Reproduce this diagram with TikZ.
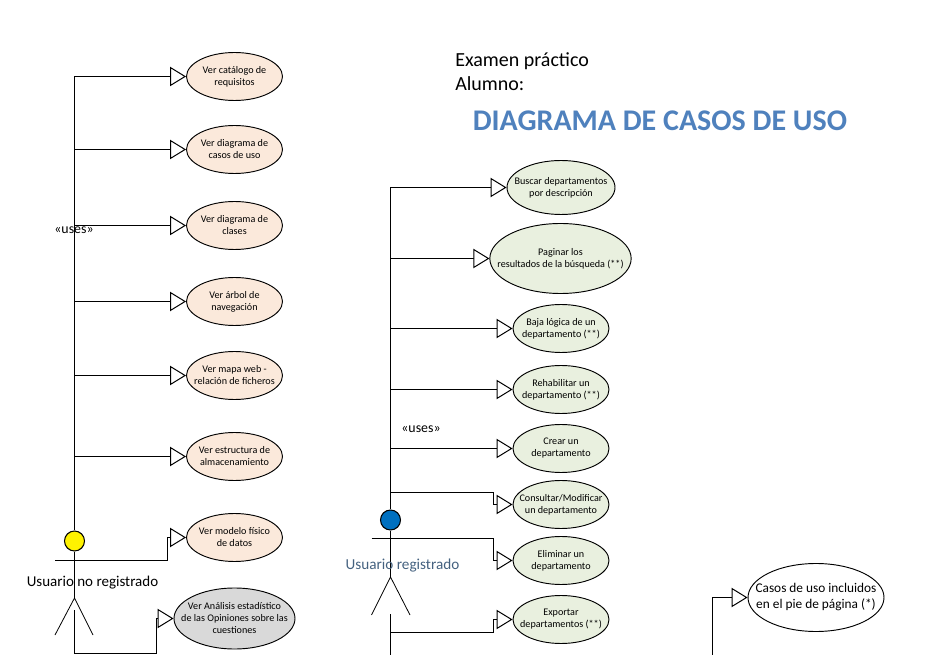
\documentclass[tikz,border=0pt]{standalone}
\usepackage{fontspec}
\setmainfont{Carlito}
\usetikzlibrary{shapes.geometric,arrows.meta}
\definecolor{peach}{HTML}{FBE9DB}
\definecolor{pale}{HTML}{E9F0DF}
\definecolor{greycase}{HTML}{D9D9D9}
\definecolor{titleblue}{HTML}{4F81BD}
\definecolor{actorblue}{HTML}{0070C0}
\definecolor{actortext}{HTML}{44617F}
\tikzset{
  usecase/.style={draw,line width=0.7pt,ellipse,inner xsep=-30pt,inner ysep=-12pt,align=center,font=\fontsize{7.6}{9}\selectfont,minimum width=72pt,minimum height=36pt},
  lefcase/.style={usecase,fill=peach},
  rigcase/.style={usecase,fill=pale},
  link/.style={line width=0.75pt,-{Triangle[open,fill=white,length=12pt,width=14.5pt]}},
  head/.style={draw,circle,line width=0.8pt,minimum size=15pt,inner sep=0pt},
  limb/.style={line width=0.6pt},
  trunk/.style={line width=0.9pt},
}
\begin{document}
\begin{tikzpicture}[x=0.75pt,y=-0.75pt]
\useasboundingbox (0,0) rectangle (949,655);

\node[anchor=west,inner sep=0pt,font=\fontsize{15}{18}\selectfont,align=left] (exam) at (455,71.5) {Examen práctico\\Alumno:};
\node[anchor=west,inner sep=0pt,font=\fontsize{22.5}{27}\bfseries\selectfont,text=titleblue] (title) at (472.5,121) {DIAGRAMA DE CASOS DE USO};

% no registrado
\node[lefcase] (catalogo) at (234.5,76.5) {Ver catálogo de\\requisitos};
\node[lefcase] (casos) at (234.5,149.5) {Ver diagrama de\\casos de uso};
\node[lefcase] (clases) at (234.5,225.5) {Ver diagrama de\\clases};
\node[lefcase] (arbol) at (234.5,301.5) {Ver árbol de\\navegación};
\node[lefcase] (mapa) at (234.5,375.5) {Ver mapa web -\\relación de ficheros};
\node[lefcase] (estructura) at (234.5,456.5) {Ver estructura de\\almacenamiento};
\node[lefcase] (modelo) at (234.5,537.5) {Ver modelo físico\\de datos};
\node[usecase,fill=greycase,minimum width=90.75pt,minimum height=45.75pt] (analisis) at (234.5,618.5) {Ver Análisis estadístico\\de las Opiniones sobre las\\cuestiones};

\node[head,fill=yellow] (yellowhead) at (74.5,541) {};
\coordinate (t0) at (74.5,76.5);
\coordinate (t1) at (74.5,149.5);
\coordinate (t2) at (74.5,225.5);
\coordinate (t3) at (74.5,301.5);
\coordinate (t4) at (74.5,375.5);
\coordinate (t5) at (74.5,456.5);
\coordinate (armL) at (55,560.5);
\coordinate (hip) at (74.5,598);
\coordinate (footL) at (55,635);
\coordinate (footR) at (93,635);
\coordinate (low0) at (74.5,610);
\coordinate (low1) at (74.5,653.5);

\path[draw,trunk] (t0) -- (yellowhead);
\path[draw,link] (t0) -- (catalogo.west);
\path[draw,link] (t1) -- (casos.west);
\path[draw,link] (t2) -- (clases.west);
\path[draw,link] (t3) -- (arbol.west);
\path[draw,link] (t4) -- (mapa.west);
\path[draw,link] (t5) -- (estructura.west);
\path[draw,link] (armL) -| ([xshift=-14pt]modelo.west) -- (modelo.west);
\path[draw,limb] (yellowhead) -- (hip);
\path[draw,limb] (footL) -- (hip) -- (footR);
\path[draw,trunk] (low0) -- (low1);
\path[draw,link] (low1) -| ([xshift=-13pt]analisis.west) -- (analisis.west);

\node[font=\fontsize{10.4}{12}\selectfont] (usesa) at (74,230.5) {«uses»};
\node[font=\fontsize{11.25}{13}\selectfont] (usera) at (92.5,582.5) {Usuario no registrado};

% registrado
\node[rigcase,minimum width=81pt,minimum height=40.5pt] (buscar) at (561,187.5) {Buscar departamentos\\por descripción};
\node[rigcase,minimum width=106pt,minimum height=52.5pt] (paginar) at (560.5,258.5) {Paginar los\\resultados de la búsqueda (**)};
\node[rigcase] (baja) at (561,328.5) {Baja lógica de un\\departamento (**)};
\node[rigcase] (rehab) at (561,389.5) {Rehabilitar un\\departamento (**)};
\node[rigcase] (crear) at (561,448.5) {Crear un\\departamento};
\node[rigcase] (consultar) at (561,504.5) {Consultar/Modificar\\un departamento};
\node[rigcase] (eliminar) at (561,560.5) {Eliminar un\\departamento};
\node[rigcase] (exportar) at (561,619.5) {Exportar\\departamentos (**)};

\node[head,fill=actorblue] (bluehead) at (390.5,520) {};
\coordinate (r0) at (390.5,187.5);
\coordinate (r1) at (390.5,258.5);
\coordinate (r2) at (390.5,328.5);
\coordinate (r3) at (390.5,389.5);
\coordinate (r4) at (390.5,448.5);
\coordinate (r5) at (390.5,492.5);
\coordinate (arm2L) at (371.5,538.5);
\coordinate (hip2) at (390.5,577);
\coordinate (foot2L) at (371.5,615);
\coordinate (foot2R) at (410,615);
\coordinate (low2) at (390.5,614);
\coordinate (low3) at (390.5,632.5);
\coordinate (low4) at (390.5,655);

\path[draw,trunk] (r0) -- (bluehead);
\path[draw,link] (r0) -- (buscar.west);
\path[draw,link] (r1) -- (paginar.west);
\path[draw,link] (r2) -- (baja.west);
\path[draw,link] (r3) -- (rehab.west);
\path[draw,link] (r4) -- (crear.west);
\path[draw,link] (r5) -| ([xshift=-14pt]consultar.west) -- (consultar.west);
\path[draw,link] (arm2L) -| ([xshift=-14pt]eliminar.west) -- (eliminar.west);
\path[draw,limb] (bluehead) -- (hip2);
\path[draw,limb] (foot2L) -- (hip2) -- (foot2R);
\path[draw,trunk] (low2) -- (low4);
\path[draw,link] (low3) -| ([xshift=-14pt]exportar.west) -- (exportar.west);

\node[font=\fontsize{10.4}{12}\selectfont] (usesb) at (421,429.5) {«uses»};
\node[font=\fontsize{11.4}{13}\selectfont,text=actortext] (userb) at (402.5,565.5) {Usuario registrado};

% pie de pagina
\node[usecase,font=\fontsize{10}{12}\selectfont,minimum width=102pt,minimum height=51pt] (incluidos) at (816,597.5) {Casos de uso incluidos\\en el pie de página (*)};
\coordinate (pie) at (712,655);
\path[draw,link] (pie) |- (incluidos.west);
\end{tikzpicture}
\end{document}
